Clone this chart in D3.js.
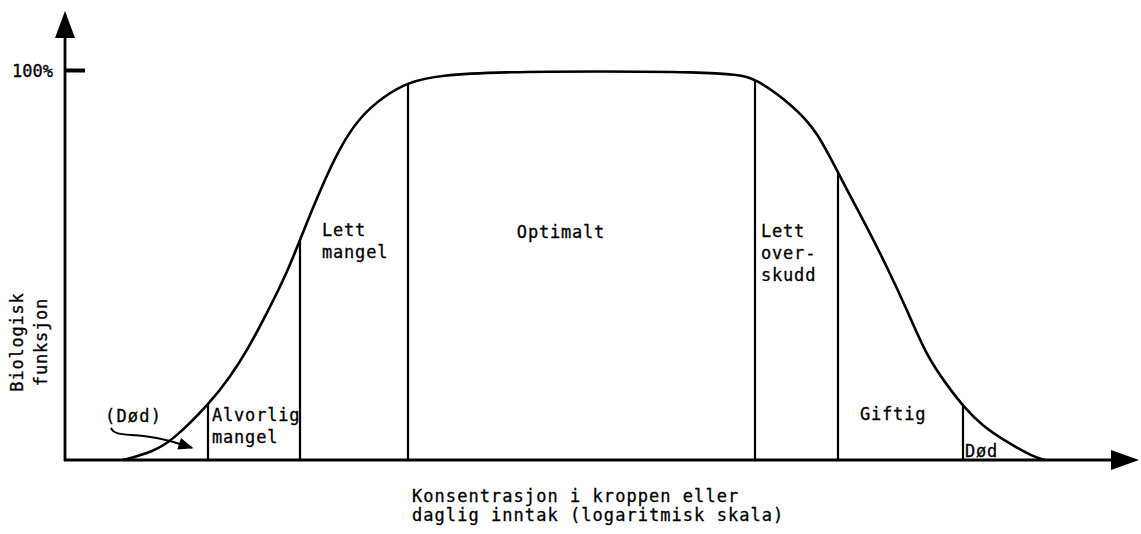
<!DOCTYPE html>
<html>
<head>
<meta charset="utf-8">
<script src="https://cdn.jsdelivr.net/npm/d3@7"></script>
<style>
  body { margin: 0; background: #fff; }
  text { font-family: "DejaVu Sans Mono", monospace; fill: #000; stroke: #000; stroke-width: 0.3px; }
</style>
</head>
<body>
<svg id="chart" width="1141" height="534"></svg>
<script>
// curve: concentration (log units, arbitrary) -> biological function (%)
var curveX = [5.8, 8.8, 10.8, 14.5, 16.5, 18.2, 20.2, 22.2, 23.5, 25.5, 27.5, 29.5, 31.8, 34.3, 37.5, 43.5, 53.5, 63.5, 67.5, 69.0, 72.8, 75.2, 77.5, 80.2, 82.2, 84.2, 86.2, 88.2, 89.8, 91.8, 94.2, 96.8, 98.0];
var curveY = [0, 2.1, 5.1, 14.6, 21.3, 28.0, 37.7, 48.0, 56.5, 69.2, 80.3, 88.0, 93.1, 96.9, 98.7, 99.5, 99.7, 99.5, 98.7, 97.9, 90.9, 84.4, 72.6, 59.7, 49.5, 38.5, 26.5, 19.2, 13.8, 8.6, 4.6, 0.8, 0];

// zone boundaries (x, same units)
var boundaries = [14.3, 23.5, 34.3, 69.0, 77.3, 89.8];

// zone labels
var zoneLabels = [
  ["Alvorlig", "mangel"],
  ["Lett", "mangel"],
  ["Optimalt"],
  ["Lett", "over-", "skudd"],
  ["Giftig"],
  ["Død"]
];

// "(Død)" pointer path (x, %)
var deadArrowX = [4.6, 4.9, 7.0, 9.7, 12.7];
var deadArrowY = [8.2, 6.7, 6.4, 5.6, 3.1];

var yTicks = [100];
var xTitle = ["Konsentrasjon i kroppen eller", "daglig inntak (logaritmisk skala)"];
var yTitle = ["Biologisk", "funksjon"];

var svg = d3.select("#chart");

var x = d3.scaleLinear().domain([0, 105]).range([65, 1115]);
var y = d3.scaleLinear().domain([0, 100]).range([460, 70]);

var defs = svg.append("defs");
defs.append("marker")
  .attr("id", "tri")
  .attr("viewBox", "0 0 10 8")
  .attr("refX", 9).attr("refY", 4)
  .attr("markerWidth", 8).attr("markerHeight", 6)
  .attr("markerUnits", "strokeWidth")
  .attr("orient", "auto")
  .append("path").attr("d", "M0,0 L10,4 L0,8 Z").attr("fill", "#000");

// axes
var yAxis = d3.axisLeft(y).tickValues(yTicks)
  .tickFormat(function (d) { return d + "%"; })
  .tickSizeInner(-20).tickSizeOuter(0).tickPadding(12);
var gy = svg.append("g").attr("transform", "translate(" + x(0) + ",0)").call(yAxis);
gy.select(".domain").remove();
gy.selectAll(".tick line").attr("stroke", "#000").attr("stroke-width", 4);
gy.selectAll(".tick text").attr("font-family", null).style("font-size", "17px").attr("dy", "0.4em");

var xAxis = d3.axisBottom(x).tickValues([]).tickSizeOuter(0);
var gx = svg.append("g").attr("transform", "translate(0," + y(0) + ")").call(xAxis);
gx.select(".domain").remove();

// axis lines with arrows
svg.append("line")
  .attr("x1", x(0)).attr("y1", y(0) + 1)
  .attr("x2", x(0)).attr("y2", 30)
  .attr("stroke", "#000").attr("stroke-width", 2.8);
svg.append("path")
  .attr("d", d3.line()([[x(0) - 10, 38], [x(0), 11], [x(0) + 10, 38]]))
  .attr("fill", "#000");

svg.append("line")
  .attr("x1", x(0) - 1).attr("y1", y(0))
  .attr("x2", 1120).attr("y2", y(0))
  .attr("stroke", "#000").attr("stroke-width", 2.8);
svg.append("path")
  .attr("d", d3.line()([[1111, y(0) - 10], [1139, y(0)], [1111, y(0) + 10]]))
  .attr("fill", "#000");

// main curve
var pts = curveX.map(function (d, i) { return [x(d), y(curveY[i])]; });
var curvePath = svg.append("path")
  .attr("d", d3.line().curve(d3.curveBasis)(pts))
  .attr("fill", "none").attr("stroke", "#000").attr("stroke-width", 2.6);

// find curve height at a given pixel x
var node = curvePath.node(), total = node.getTotalLength();
function curveAt(px) {
  var lo = 0, hi = total;
  for (var k = 0; k < 40; k++) {
    var mid = (lo + hi) / 2;
    if (node.getPointAtLength(mid).x < px) lo = mid; else hi = mid;
  }
  return node.getPointAtLength((lo + hi) / 2).y;
}

// zone dividers
svg.append("g").selectAll("line")
  .data(boundaries)
  .enter().append("line")
  .attr("x1", function (d) { return x(d); })
  .attr("x2", function (d) { return x(d); })
  .attr("y1", function (d) { return curveAt(x(d)); })
  .attr("y2", y(0))
  .attr("stroke", "#000").attr("stroke-width", 2.2);

// zone labels
var labelPos = [
  { dx: 4, y: 421, anchor: "start" },
  { dx: 22, y: 236, anchor: "start" },
  { dx: 153, y: 238, anchor: "middle" },
  { dx: 6, y: 237, anchor: "start" },
  { dx: 22, y: 420, anchor: "start" },
  { dx: 2, y: 457, anchor: "start" }
];
var zl = svg.append("g").selectAll("text")
  .data(zoneLabels)
  .enter().append("text")
  .attr("x", function (d, i) { return x(boundaries[i]) + labelPos[i].dx; })
  .attr("y", function (d, i) { return labelPos[i].y; })
  .attr("text-anchor", function (d, i) { return labelPos[i].anchor; })
  .style("font-size", "17px")
  .style("letter-spacing", "0.8px");
zl.selectAll("tspan")
  .data(function (d) { return d; })
  .enter().append("tspan")
  .attr("x", function () { return d3.select(this.parentNode).attr("x"); })
  .attr("dy", function (d, i) { return i === 0 ? 0 : 22; })
  .text(function (d) { return d; });

// (Død) note with pointer
svg.append("text")
  .attr("x", x(deadArrowX[0]) - 6).attr("y", 422)
  .style("font-size", "17px").style("letter-spacing", "1.2px")
  .text("(Død)");
var ap = deadArrowX.map(function (d, i) { return [x(d), y(deadArrowY[i])]; });
svg.append("path")
  .attr("d", d3.line().curve(d3.curveBasis)(ap))
  .attr("fill", "none").attr("stroke", "#000").attr("stroke-width", 2)
  .attr("marker-end", "url(#tri)");

// axis titles
svg.append("g").selectAll("text")
  .data(xTitle)
  .enter().append("text")
  .attr("x", 412)
  .attr("y", function (d, i) { return 502 + i * 19; })
  .style("font-size", "17px").style("letter-spacing", "1.05px")
  .text(function (d) { return d; });

svg.append("g").selectAll("text")
  .data(yTitle)
  .enter().append("text")
  .attr("transform", function (d, i) { return "translate(" + (23 + i * 24) + ",342) rotate(-90)"; })
  .attr("text-anchor", "middle")
  .style("font-size", "17px").style("letter-spacing", "0.8px")
  .text(function (d) { return d; });
</script>
</body>
</html>
